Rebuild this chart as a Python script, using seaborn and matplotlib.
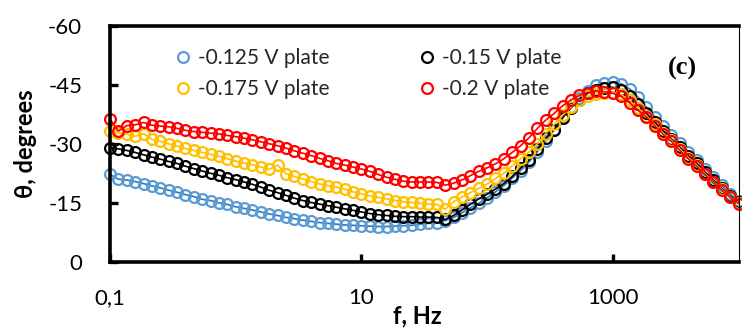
import numpy as np
import pandas as pd
import matplotlib
matplotlib.use("Agg")
import matplotlib.pyplot as plt
from matplotlib.lines import Line2D
from matplotlib.ticker import FixedLocator, FixedFormatter, NullLocator
import seaborn as sns

# Frequency sweep, Hz (15 points per decade, 0.1 Hz .. 10 kHz)
freq = [
    0.1, 0.1166, 0.1359, 0.1585, 0.1848, 0.2154, 0.2512, 0.2929, 0.3415, 0.3981,
    0.4642, 0.5412, 0.6310, 0.7356, 0.8577,
    1.0, 1.166, 1.359, 1.585, 1.848, 2.154, 2.512, 2.929, 3.415, 3.981,
    4.642, 5.412, 6.310, 7.356, 8.577,
    10.0, 11.66, 13.59, 15.85, 18.48, 21.54, 25.12, 29.29, 34.15, 39.81,
    46.42, 54.12, 63.10, 73.56, 85.77,
    100.0, 116.6, 135.9, 158.5, 184.8, 215.4, 251.2, 292.9, 341.5, 398.1,
    464.2, 541.2, 631.0, 735.6, 857.7,
    1000.0, 1166.0, 1359.0, 1585.0, 1848.0, 2154.0, 2512.0, 2929.0, 3415.0, 3981.0,
    4642.0, 5412.0, 6310.0, 7356.0, 8577.0,
    10000.0,
]

# Phase angle, degrees
theta_0125 = [
    -22.2, -21.0, -20.8, -20.4, -19.9, -19.3, -18.8, -18.2, -17.7, -17.1,
    -16.6, -15.9, -15.6, -15.0, -14.6, -14.0, -13.6, -13.2, -12.7, -12.2,
    -11.8, -11.3, -11.0, -10.6, -10.3, -10.0, -9.8, -9.6, -9.4, -9.3,
    -9.2, -9.1, -9.0, -9.0, -9.1, -9.2, -9.3, -9.6, -9.8, -10.0,
    -10.5, -11.3, -12.5, -13.7, -14.9, -16.3, -17.8, -19.4, -21.3, -23.2,
    -25.4, -28.0, -30.7, -33.5, -36.5, -39.2, -41.6, -43.5, -44.8, -45.4,
    -45.6, -45.2, -43.9, -41.8, -39.3, -36.9, -34.5, -32.3, -30.2, -28.0,
    -25.9, -23.7, -21.6, -19.5, -17.3, -15.4,
]
theta_015 = [
    -29.0, -28.7, -28.3, -27.8, -27.2, -26.6, -26.1, -25.5, -25.0, -24.3,
    -23.7, -23.1, -22.5, -22.0, -21.4, -20.9, -20.3, -19.7, -19.0, -18.2,
    -17.6, -16.9, -16.2, -15.6, -15.1, -14.7, -14.3, -13.9, -13.5, -13.1,
    -12.7, -12.3, -12.0, -11.8, -11.6, -11.5, -11.5, -11.4, -11.4, -11.3,
    -10.8, -11.8, -13.2, -14.6, -16.0, -17.2, -18.5, -19.9, -21.7, -23.8,
    -25.9, -28.6, -31.4, -33.6, -36.6, -39.1, -41.2, -42.8, -43.7, -44.2,
    -44.3, -43.6, -42.1, -40.0, -37.7, -35.4, -33.3, -31.2, -29.1, -27.0,
    -25.1, -22.8, -20.8, -18.7, -16.7, -15.2,
]
theta_0175 = [
    -33.2, -32.8, -32.4, -31.9, -32.6, -31.1, -30.6, -30.0, -29.4, -28.8,
    -28.3, -27.8, -27.3, -26.8, -26.2, -25.6, -25.1, -24.7, -24.1, -23.5,
    -24.6, -22.4, -21.7, -21.1, -20.4, -19.8, -19.4, -19.0, -18.5, -17.8,
    -17.3, -16.8, -16.4, -16.0, -15.6, -15.3, -15.1, -14.9, -14.7, -14.6,
    -13.4, -15.3, -16.5, -17.6, -18.7, -19.8, -21.2, -22.5, -24.4, -26.2,
    -27.9, -30.0, -32.6, -34.9, -37.2, -39.3, -41.0, -42.0, -42.6, -43.0,
    -43.0, -42.5, -41.0, -39.1, -37.1, -34.9, -32.7, -30.9, -28.7, -26.5,
    -24.6, -22.4, -20.4, -18.4, -16.5, -15.0,
]
theta_02 = [
    -36.3, -33.2, -34.6, -34.8, -35.4, -34.7, -34.5, -34.3, -33.9, -33.4,
    -33.1, -32.9, -32.7, -32.5, -32.1, -31.8, -31.4, -31.0, -30.5, -30.0,
    -29.5, -28.9, -28.2, -27.6, -27.0, -26.3, -25.7, -25.0, -24.6, -24.1,
    -23.6, -23.0, -22.2, -21.5, -21.0, -20.5, -20.3, -20.3, -20.3, -20.2,
    -19.5, -20.0, -20.8, -21.9, -23.0, -23.9, -24.9, -26.2, -27.8, -29.5,
    -31.5, -33.9, -36.0, -37.7, -39.6, -41.1, -42.3, -43.0, -43.3, -43.2,
    -42.8, -42.0, -40.4, -38.5, -36.8, -34.6, -32.4, -30.6, -28.3, -26.2,
    -24.3, -22.2, -20.2, -18.2, -16.4, -14.8,
]

series_labels = ["-0.125 V plate", "-0.15 V plate", "-0.175 V plate", "-0.2 V plate"]
x_ticks = [0.1, 10, 1000]
x_tick_labels = ["0,1", "10", "1000"]
y_ticks = [-60, -45, -30, -15, 0]
y_tick_labels = ["-60", "-45", "-30", "-15", "0"]

marker_colors = ["#5B9BD5", "#000000", "#FFC000", "#FF0000"]
line_colors = ["#2E75B6", "#000000", "#FFC000", "#FF0000"]

sns.set_theme(style="white")
plt.rcParams["font.family"] = ["Lato", "DejaVu Sans"]
plt.rcParams["axes.unicode_minus"] = False

fig = plt.figure(figsize=(7.42, 3.30), dpi=100)
ax = fig.add_axes([110 / 742, 1 - 262 / 330, (738.5 - 110) / 742, (262 - 25.5) / 330])

series = [theta_0125, theta_015, theta_0175, theta_02]
for vals, lab, mc, lc in zip(series, series_labels, marker_colors, line_colors):
    df = pd.DataFrame({"f": freq, "theta": vals})
    sns.lineplot(
        data=df, x="f", y="theta", ax=ax, sort=False, estimator=None,
        color=lc, linewidth=1.2, marker="o", markersize=7.8,
        markerfacecolor="none", markeredgecolor=mc, markeredgewidth=1.6,
        clip_on=False, legend=False,
    )

ax.set_xscale("log")
ax.set_xlim(0.1, 10000)
ax.set_ylim(0, -60)

ax.xaxis.set_major_locator(FixedLocator(x_ticks))
ax.xaxis.set_major_formatter(FixedFormatter(x_tick_labels))
ax.xaxis.set_minor_locator(NullLocator())
ax.yaxis.set_major_locator(FixedLocator(y_ticks))
ax.yaxis.set_major_formatter(FixedFormatter(y_tick_labels))

for side in ["left", "bottom", "top"]:
    ax.spines[side].set_linewidth(2.6)
    ax.spines[side].set_color("black")
ax.spines["right"].set_linewidth(0.8)
ax.spines["right"].set_color("black")

ax.tick_params(axis="both", which="major", direction="in", length=5.5, width=2.4,
               color="black", labelsize=16, labelcolor="black")
ax.tick_params(axis="x", pad=19, top=False, bottom=True)
ax.tick_params(axis="y", pad=20, left=True, right=False)

ax.set_xlabel("f, Hz", fontsize=17, fontweight="bold", color="black")
ax.xaxis.set_label_coords((417 - 110) / 628.5, -0.18)
ax.set_ylabel("θ, degrees", fontsize=17, fontweight="bold", color="black", labelpad=8)

handles = [
    Line2D([], [], linestyle="none", marker="o", markersize=7.8, markerfacecolor="none",
           markeredgecolor=c, markeredgewidth=1.6)
    for c in marker_colors
]
order = [0, 2, 1, 3]
ax.legend([handles[i] for i in order], [series_labels[i] for i in order],
          ncol=2, loc="upper left", bbox_to_anchor=(0.103, 0.905), frameon=False,
          fontsize=15, handlelength=0.8, handletextpad=0.3, columnspacing=4.3,
          labelspacing=0.52, borderpad=0, borderaxespad=0)

ax.text((682 - 110) / 628.5, (262 - 68) / 236.5, "(c)", transform=ax.transAxes,
        ha="center", va="center", fontsize=19, fontweight="bold",
        family="Liberation Serif", color="black")

fig.savefig("out.png", dpi=100)
